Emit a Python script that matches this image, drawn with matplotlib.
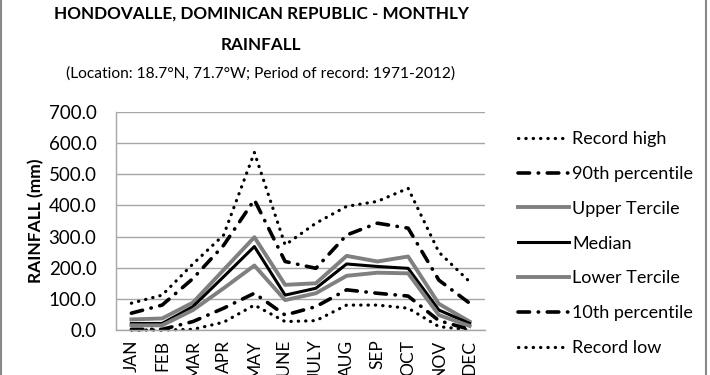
import matplotlib
matplotlib.use('Agg')
import matplotlib.pyplot as plt
from matplotlib.lines import Line2D

plt.rcParams['font.family'] = ['Lato', 'DejaVu Sans']

months = ['JAN', 'FEB', 'MAR', 'APR', 'MAY', 'JUNE', 'JULY', 'AUG', 'SEP', 'OCT', 'NOV', 'DEC']

record_high = [86, 112, 212, 305, 570, 273, 343, 397, 413, 455, 250, 155]
pct90 = [54, 80, 165, 272, 418, 220, 198, 305, 343, 327, 160, 86]
upper_tercile = [34, 37, 88, 193, 298, 145, 150, 238, 220, 236, 84, 27]
median = [21, 21, 75, 171, 268, 112, 134, 212, 204, 198, 64, 21]
lower_tercile = [15, 15, 64, 134, 207, 96, 118, 174, 184, 182, 48, 13]
pct10 = [2, 2, 27, 70, 118, 48, 75, 129, 118, 109, 30, 2]
record_low = [0, 0, 2, 25, 80, 27, 30, 80, 80, 70, 11, 0]

yticks = [0, 100, 200, 300, 400, 500, 600, 700]

W, H = 710, 375
fig = plt.figure(figsize=(W / 100, H / 100), dpi=100)
ax = fig.add_axes([116 / W, (H - 330) / H, (485 - 116) / W, (330 - 112) / H])

x = list(range(len(months)))
dotted = (0, (0.1, 2.2))
dashdot = (0, (3.2, 2.4, 0.1, 2.4))

series = [
    (record_high, 'Record high', dict(color='black', lw=2.3, linestyle=dotted, dash_capstyle='round')),
    (pct90, '90th percentile', dict(color='black', lw=2.6, linestyle=dashdot, dash_capstyle='round')),
    (upper_tercile, 'Upper Tercile', dict(color='#808080', lw=2.8, linestyle='-')),
    (median, 'Median', dict(color='black', lw=2.2, linestyle='-')),
    (lower_tercile, 'Lower Tercile', dict(color='#808080', lw=2.8, linestyle='-')),
    (pct10, '10th percentile', dict(color='black', lw=2.6, linestyle=dashdot, dash_capstyle='round')),
    (record_low, 'Record low', dict(color='black', lw=2.3, linestyle=dotted, dash_capstyle='round')),
]

handles = []
for vals, label, style in series:
    line, = ax.plot(x, vals, label=label, clip_on=False, **style)
    handles.append(line)

ax.set_xlim(-0.5, len(months) - 0.5)
ax.set_ylim(0, 700)
ax.set_yticks(yticks)
ax.set_yticklabels([f'{v:.1f}' for v in yticks], fontsize=13.5)
ax.set_xticks(x)
ax.set_xticklabels(months, rotation=90, fontsize=12.5)
ax.tick_params(axis='both', length=0)
ax.tick_params(axis='y', pad=14)
ax.tick_params(axis='x', pad=7)
ax.yaxis.grid(True, color='#a6a6a6', lw=1)
ax.set_axisbelow(True)
for s in ['top', 'right']:
    ax.spines[s].set_visible(False)
for s in ['left', 'bottom']:
    ax.spines[s].set_color('#a6a6a6')
    ax.spines[s].set_linewidth(1)

ax.set_ylabel('RAINFALL (mm)', fontsize=12.5, fontweight='bold', labelpad=3)

fig.legend(handles=handles, loc='upper left', bbox_to_anchor=(511 / W, 1 - 124 / H),
           frameon=False, fontsize=13, handlelength=2.8, handletextpad=0.2,
           labelspacing=1.04, borderaxespad=0)

fig.text(261 / W, 1 - 14 / H, 'HONDOVALLE, DOMINICAN REPUBLIC - MONTHLY', ha='center', va='center',
         fontsize=12.3, fontweight='bold')
fig.text(261 / W, 1 - 45 / H, 'RAINFALL', ha='center', va='center', fontsize=12.3, fontweight='bold')
fig.text(261 / W, 1 - 74 / H, '(Location: 18.7°N, 71.7°W; Period of record: 1971-2012)',
         ha='center', va='center', fontsize=11.2)

fig.add_artist(Line2D([1 / W, 1 / W], [0, 1], color='#888888', lw=1.5, transform=fig.transFigure))
fig.add_artist(Line2D([706 / W, 706 / W], [0, 1], color='#888888', lw=1.5, transform=fig.transFigure))

fig.savefig('out.png', dpi=100)
